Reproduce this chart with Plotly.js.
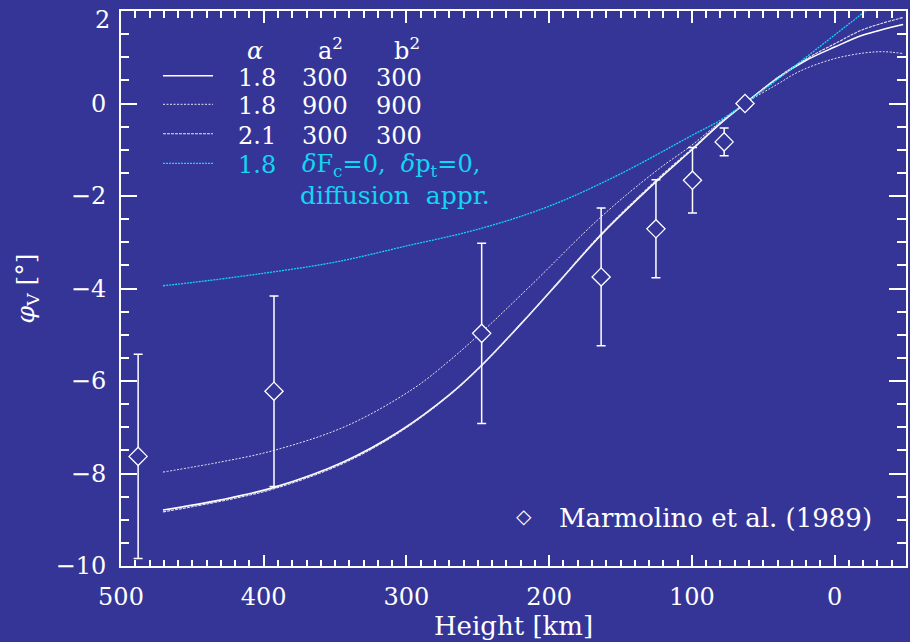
<!DOCTYPE html>
<html>
<head>
<meta charset="utf-8">
<script src="https://cdn.plot.ly/plotly-3.0.1.min.js"></script>
<style>
  html, body { margin: 0; padding: 0; background: #353597; }
  #chart { width: 910px; height: 642px; }
</style>
</head>
<body>
<div id="chart"></div>
<script>
// ---- Data ----
// Observations: Marmolino et al. (1989)
const obsHeight = [488, 392.8, 247.3, 163.6, 125.2, 99.6, 77.4, 62.8];
const obsPhi    = [-7.63, -6.22, -4.97, -3.75, -2.71, -1.66, -0.83, 0];
const obsErr    = [2.21, 2.06, 1.95, 1.49, 1.06, 0.71, 0.30, 0];

// Model: alpha=1.8, a2=300, b2=300 (solid)
const h1   = [470.6, 430, 392.8, 344.2, 304.5, 270, 247.3, 213.4, 192.4, 163.3, 124.7, 100, 80.3, 62.8, 40, 19.6, 0, -20, -48];
const phi1 = [-8.79, -8.57, -8.30, -7.75, -7.08, -6.30, -5.66, -4.55, -3.83, -2.83, -1.68, -1.0, -0.44, 0, 0.55, 0.94, 1.22, 1.48, 1.71];

// Model: alpha=1.8, a2=900, b2=900 (dotted)
const h2   = [470.6, 430, 392.8, 341.9, 295.4, 271.8, 248.5, 213.4, 163.6, 124.7, 100, 80.3, 62.8, 40, 24.3, 1.2, -20, -33.9, -48];
const phi2 = [-7.97, -7.75, -7.50, -6.97, -6.17, -5.61, -4.98, -3.95, -2.45, -1.45, -0.90, -0.40, 0, 0.42, 0.70, 0.96, 1.09, 1.12, 1.08];

// Model: alpha=2.1, a2=300, b2=300 (dashed)
const h3   = [470.6, 430, 392.8, 344.2, 304.5, 270, 247.3, 213.4, 192.4, 163.3, 124.7, 100, 80.3, 62.8, 40, 19.6, 0, -20, -48];
const phi3 = [-8.83, -8.60, -8.33, -7.78, -7.10, -6.31, -5.67, -4.55, -3.82, -2.81, -1.65, -0.98, -0.42, 0, 0.56, 0.97, 1.29, 1.60, 1.86];

// Model: alpha=1.8, dFc=0, dpt=0, diffusion approximation (cyan)
const h4   = [470.6, 450, 400, 350, 300, 250, 200, 150, 100, 80, 62.8, 40, 20, 0, -20, -40];
const phi4 = [-3.94, -3.87, -3.67, -3.43, -3.08, -2.72, -2.22, -1.52, -0.69, -0.36, 0, 0.52, 1.0, 1.48, 1.96, 2.44];

// Axis tick values
const yTickVals = [-10, -8, -6, -4, -2, 0];
const yTopTick = 2;

// Legend table text
const legendHeader = ['<i>α</i>', 'a<sup>2</sup>', 'b<sup>2</sup>'];
const legendRows = [
  ['1.8', '300', '300'],
  ['1.8', '900', '900'],
  ['2.1', '300', '300'],
];
const legendCyanRow = ['1.8', '<i>δ</i>F<sub>c</sub>=0,  <i>δ</i>p<sub>t</sub>=0,', 'diffusion  appr.'];
const obsLabel = 'Marmolino et al. (1989)';

// ---- Styling ----
const BG = '#353597';
const CYAN = '#12d6f2';
const WHITE = '#ffffff';
const FONT = 'DejaVu Serif';

const L = 121, T = 11, W = 785, H = 555;
const px = x => (x - L) / W;
const py = y => (T + H - y) / H;

const lineStyles = [
  {color: WHITE, width: 1.6, dash: 'solid'},
  {color: '#e4e4f2', width: 1.0, dash: '2px,1.5px'},
  {color: '#e4e4f2', width: 1.1, dash: '3px,1px'},
  {color: CYAN, width: 1.3, dash: '2px,1px'},
];

const mk = (x, y, i) => ({x: x, y: y, mode: 'lines', showlegend: false, hoverinfo: 'skip',
  line: Object.assign({shape: 'spline', smoothing: 1}, lineStyles[i])});

const traces = [
  mk(h1, phi1, 0), mk(h2, phi2, 1), mk(h3, phi3, 2), mk(h4, phi4, 3),
  {x: obsHeight, y: obsPhi, mode: 'markers', showlegend: false,
   marker: {symbol: 'diamond', size: 14, color: BG, line: {color: WHITE, width: 1.3}},
   error_y: {type: 'data', array: obsErr, symmetric: true, color: WHITE, thickness: 1.5, width: 4.5}},
  // empty traces so the mirrored (top/right) tick axes are drawn
  {x: [], y: [], xaxis: 'x2', yaxis: 'y', showlegend: false, hoverinfo: 'skip'},
  {x: [], y: [], xaxis: 'x', yaxis: 'y2', showlegend: false, hoverinfo: 'skip'},
];

// Legend: sample lines + text table
const shapes = [];
const sampleY = [75.7, 104.3, 133.7, 163.3];
sampleY.forEach((y, i) => {
  shapes.push({type: 'line', xref: 'paper', yref: 'paper', x0: px(163), x1: px(213), y0: py(y), y1: py(y),
               line: {color: lineStyles[i].color, width: lineStyles[i].width, dash: lineStyles[i].dash}});
});

const annotations = [];
const txt = (text, x, y, color, size, anchor) => annotations.push({
  text: text, xref: 'paper', yref: 'paper', x: px(x), y: py(y), xanchor: anchor || 'left', yanchor: 'middle',
  showarrow: false, font: {family: FONT, size: size || 24, color: color || WHITE}
});
const colX = [236, 300, 374];
txt(legendHeader[0], 255, 51, WHITE, 24, 'center');
txt(legendHeader[1], 330, 49, WHITE, 24, 'center');
txt(legendHeader[2], 407, 49, WHITE, 24, 'center');
legendRows.forEach((row, i) => {
  row.forEach((t, j) => txt(t, colX[j], sampleY[i] + 2, WHITE, 24));
});
txt(legendCyanRow[0], colX[0], 165, CYAN, 24);
txt(legendCyanRow[1], colX[1], 165, CYAN, 24);
txt(legendCyanRow[2], 298, 195, CYAN, 25);
// observation label
txt('◇', 524, 516, WHITE, 20, 'center');
txt(obsLabel, 557, 518, WHITE, 26);
// top y tick label (kept inside the page like the reference)
txt(String(yTopTick), 112, 20, WHITE, 24, 'right');

const tickFont = {family: FONT, size: 24, color: WHITE};

const layout = {
  width: 910, height: 642,
  margin: {l: L, r: 910 - L - W, t: T, b: 642 - T - H, pad: 0},
  paper_bgcolor: BG, plot_bgcolor: BG,
  showlegend: false,
  xaxis: {
    range: [500, -50], tickmode: 'linear', tick0: 0, dtick: 100,
    showline: true, linecolor: WHITE, linewidth: 2, mirror: false,
    ticks: 'inside', ticklen: 11, tickwidth: 2, tickcolor: WHITE,
    minor: {dtick: 10, tick0: 0, ticklen: 6, tickwidth: 2, tickcolor: WHITE, ticks: 'inside'},
    showgrid: false, zeroline: false, tickfont: tickFont, ticklabelstandoff: 8,
    title: {text: 'Height [km]', font: {family: FONT, size: 26, color: WHITE}, standoff: 4},
  },
  xaxis2: {
    range: [500, -50], overlaying: 'x', side: 'top', anchor: 'y', tickmode: 'linear', tick0: 0, dtick: 100,
    showline: true, linecolor: WHITE, linewidth: 2,
    ticks: 'inside', ticklen: 12, tickwidth: 2, tickcolor: WHITE,
    minor: {dtick: 10, tick0: 0, ticklen: 7, tickwidth: 2, tickcolor: WHITE, ticks: 'inside'},
    showticklabels: false, showgrid: false, zeroline: false,
  },
  yaxis: {
    range: [-10, 2], tickmode: 'array', tickvals: yTickVals,
    showline: true, linecolor: WHITE, linewidth: 2, mirror: false,
    ticks: 'inside', ticklen: 16, tickwidth: 2, tickcolor: WHITE,
    minor: {dtick: 0.5, tick0: 0, ticklen: 8, tickwidth: 2, tickcolor: WHITE, ticks: 'inside'},
    showgrid: false, zeroline: false, tickfont: tickFont, ticklabelstandoff: 8,
    title: {text: '<i>φ</i><sub>V</sub> [°]', font: {family: FONT, size: 25, color: WHITE}, standoff: 14},
  },
  yaxis2: {
    range: [-10, 2], overlaying: 'y', side: 'right', anchor: 'x', tickmode: 'linear', tick0: 0, dtick: 2,
    showline: true, linecolor: WHITE, linewidth: 2,
    ticks: 'inside', ticklen: 17, tickwidth: 2, tickcolor: WHITE,
    minor: {dtick: 0.5, tick0: 0, ticklen: 9, tickwidth: 2, tickcolor: WHITE, ticks: 'inside'},
    showticklabels: false, showgrid: false, zeroline: false,
  },
  shapes: shapes,
  annotations: annotations,
};

Plotly.newPlot('chart', traces, layout, {staticPlot: true, displayModeBar: false});
</script>
</body>
</html>
